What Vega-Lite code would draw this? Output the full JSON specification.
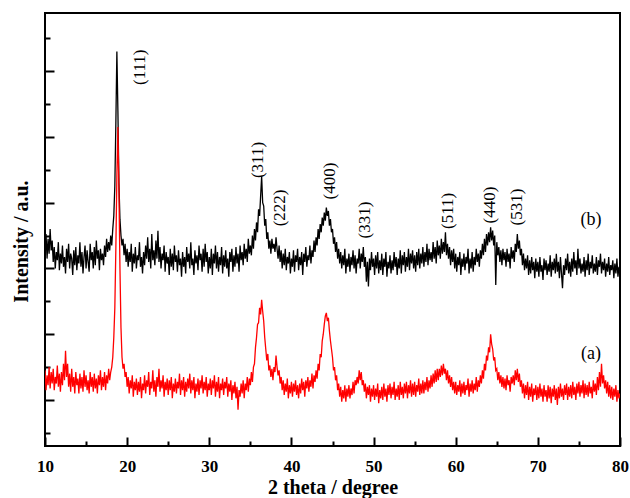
{
"$schema":"https://vega.github.io/schema/vega-lite/v6.json",
"width":575,"height":433,
"autosize":{"type":"none"},
"padding":{"left":45,"top":13,"right":10,"bottom":52},
"background":"white",
"config":{"view":{"stroke":"black","strokeWidth":2},"axis":{"grid":false,"domainColor":"black","domainWidth":2,"tickColor":"black","tickWidth":2,"labelFont":"Liberation Serif","labelFontWeight":"bold","labelColor":"black","titleFont":"Liberation Serif","titleFontWeight":"bold","titleColor":"black"}},
"datasets":{
"b":[
{"x":10,"y":5.7},{"x":10.125,"y":6.05},{"x":10.25,"y":5.3},{"x":10.375,"y":5.9},{"x":10.5,"y":5.45},{"x":10.625,"y":6.2},{"x":10.75,"y":5.55},{"x":10.875,"y":5.85},
{"x":11,"y":5.2},{"x":11.125,"y":5.65},{"x":11.25,"y":5.0},{"x":11.375,"y":5.5},{"x":11.5,"y":5.25},{"x":11.625,"y":5.8},{"x":11.75,"y":4.95},{"x":11.875,"y":5.45},
{"x":12,"y":5.15},{"x":12.125,"y":5.7},{"x":12.25,"y":5.05},{"x":12.375,"y":5.35},{"x":12.5,"y":4.85},{"x":12.625,"y":5.6},{"x":12.75,"y":5.2},{"x":12.875,"y":5.75},
{"x":13,"y":5.0},{"x":13.125,"y":5.45},{"x":13.25,"y":5.3},{"x":13.375,"y":4.8},{"x":13.5,"y":5.55},{"x":13.625,"y":5.1},{"x":13.75,"y":5.65},{"x":13.875,"y":4.95},
{"x":14,"y":5.4},{"x":14.125,"y":5.15},{"x":14.25,"y":5.8},{"x":14.375,"y":5.05},{"x":14.5,"y":5.5},{"x":14.625,"y":4.85},{"x":14.75,"y":5.35},{"x":14.875,"y":5.7},
{"x":15,"y":5.0},{"x":15.125,"y":5.55},{"x":15.25,"y":5.2},{"x":15.375,"y":4.9},{"x":15.5,"y":5.75},{"x":15.625,"y":5.25},{"x":15.75,"y":5.5},{"x":15.875,"y":5.0},
{"x":16,"y":5.65},{"x":16.125,"y":5.1},{"x":16.25,"y":5.85},{"x":16.375,"y":5.3},{"x":16.5,"y":5.55},{"x":16.625,"y":4.95},{"x":16.75,"y":5.6},{"x":16.875,"y":5.25},
{"x":17,"y":5.45},{"x":17.125,"y":5.1},{"x":17.25,"y":5.7},{"x":17.375,"y":5.35},{"x":17.5,"y":5.9},{"x":17.625,"y":5.5},{"x":17.75,"y":5.8},{"x":17.875,"y":5.55},
{"x":18,"y":6.0},{"x":18.125,"y":5.7},{"x":18.25,"y":6.2},{"x":18.375,"y":6.6},{"x":18.5,"y":7.5},{"x":18.625,"y":9.4},{"x":18.75,"y":11.6},{"x":18.875,"y":9.8},
{"x":19,"y":7.6},{"x":19.125,"y":6.5},{"x":19.25,"y":6.0},{"x":19.375,"y":5.7},{"x":19.5,"y":5.9},{"x":19.625,"y":5.4},{"x":19.75,"y":5.75},{"x":19.875,"y":5.2},
{"x":20,"y":5.6},{"x":20.125,"y":5.05},{"x":20.25,"y":5.5},{"x":20.375,"y":5.2},{"x":20.5,"y":5.75},{"x":20.625,"y":4.9},{"x":20.75,"y":5.45},{"x":20.875,"y":5.15},
{"x":21,"y":5.65},{"x":21.125,"y":5.0},{"x":21.25,"y":5.4},{"x":21.375,"y":5.25},{"x":21.5,"y":5.8},{"x":21.625,"y":5.05},{"x":21.75,"y":5.35},{"x":21.875,"y":4.85},
{"x":22,"y":5.5},{"x":22.125,"y":5.1},{"x":22.25,"y":5.7},{"x":22.375,"y":5.3},{"x":22.5,"y":5.95},{"x":22.625,"y":5.2},{"x":22.75,"y":5.6},{"x":22.875,"y":5.0},
{"x":23,"y":6.05},{"x":23.125,"y":5.25},{"x":23.25,"y":5.55},{"x":23.375,"y":5.1},{"x":23.5,"y":5.85},{"x":23.625,"y":5.3},{"x":23.75,"y":6.15},{"x":23.875,"y":5.2},
{"x":24,"y":5.65},{"x":24.125,"y":5.0},{"x":24.25,"y":5.45},{"x":24.375,"y":5.25},{"x":24.5,"y":5.7},{"x":24.625,"y":4.9},{"x":24.75,"y":5.5},{"x":24.875,"y":5.15},
{"x":25,"y":5.35},{"x":25.125,"y":4.8},{"x":25.25,"y":5.6},{"x":25.375,"y":5.05},{"x":25.5,"y":5.45},{"x":25.625,"y":4.95},{"x":25.75,"y":5.7},{"x":25.875,"y":5.2},
{"x":26,"y":5.4},{"x":26.125,"y":4.9},{"x":26.25,"y":5.55},{"x":26.375,"y":5.1},{"x":26.5,"y":5.3},{"x":26.625,"y":4.75},{"x":26.75,"y":5.5},{"x":26.875,"y":5.05},
{"x":27,"y":5.35},{"x":27.125,"y":4.85},{"x":27.25,"y":5.65},{"x":27.375,"y":5.2},{"x":27.5,"y":5.45},{"x":27.625,"y":5.0},{"x":27.75,"y":5.8},{"x":27.875,"y":5.1},
{"x":28,"y":5.3},{"x":28.125,"y":4.8},{"x":28.25,"y":5.55},{"x":28.375,"y":5.15},{"x":28.5,"y":5.4},{"x":28.625,"y":4.95},{"x":28.75,"y":5.7},{"x":28.875,"y":5.25},
{"x":29,"y":5.45},{"x":29.125,"y":4.9},{"x":29.25,"y":5.6},{"x":29.375,"y":5.05},{"x":29.5,"y":5.75},{"x":29.625,"y":5.2},{"x":29.75,"y":5.5},{"x":29.875,"y":4.85},
{"x":30,"y":5.35},{"x":30.125,"y":5.0},{"x":30.25,"y":5.6},{"x":30.375,"y":4.8},{"x":30.5,"y":5.45},{"x":30.625,"y":5.15},{"x":30.75,"y":5.7},{"x":30.875,"y":5.0},
{"x":31,"y":5.5},{"x":31.125,"y":4.9},{"x":31.25,"y":5.35},{"x":31.375,"y":5.1},{"x":31.5,"y":5.65},{"x":31.625,"y":4.85},{"x":31.75,"y":5.4},{"x":31.875,"y":5.05},
{"x":32,"y":5.55},{"x":32.125,"y":5.0},{"x":32.25,"y":5.3},{"x":32.375,"y":4.75},{"x":32.5,"y":5.5},{"x":32.625,"y":5.2},{"x":32.75,"y":5.6},{"x":32.875,"y":4.9},
{"x":33,"y":5.4},{"x":33.125,"y":5.05},{"x":33.25,"y":5.65},{"x":33.375,"y":5.15},{"x":33.5,"y":5.45},{"x":33.625,"y":4.9},{"x":33.75,"y":5.7},{"x":33.875,"y":5.25},
{"x":34,"y":5.5},{"x":34.125,"y":5.1},{"x":34.25,"y":5.75},{"x":34.375,"y":5.3},{"x":34.5,"y":5.6},{"x":34.625,"y":5.2},{"x":34.75,"y":5.9},{"x":34.875,"y":5.45},
{"x":35,"y":5.7},{"x":35.125,"y":5.4},{"x":35.25,"y":6.0},{"x":35.375,"y":5.6},{"x":35.5,"y":6.2},{"x":35.625,"y":5.85},{"x":35.75,"y":6.4},{"x":35.875,"y":6.1},
{"x":36,"y":6.8},{"x":36.125,"y":6.6},{"x":36.25,"y":7.2},{"x":36.375,"y":7.8},{"x":36.5,"y":7.0},{"x":36.625,"y":6.9},{"x":36.75,"y":6.3},{"x":36.875,"y":6.5},
{"x":37,"y":5.9},{"x":37.125,"y":6.1},{"x":37.25,"y":5.6},{"x":37.375,"y":5.85},{"x":37.5,"y":5.45},{"x":37.625,"y":5.9},{"x":37.75,"y":5.6},{"x":37.875,"y":5.75},
{"x":38,"y":5.5},{"x":38.125,"y":5.95},{"x":38.25,"y":5.6},{"x":38.375,"y":5.3},{"x":38.5,"y":5.7},{"x":38.625,"y":5.2},{"x":38.75,"y":5.55},{"x":38.875,"y":5.0},
{"x":39,"y":5.45},{"x":39.125,"y":5.1},{"x":39.25,"y":5.6},{"x":39.375,"y":4.95},{"x":39.5,"y":5.35},{"x":39.625,"y":5.15},{"x":39.75,"y":5.5},{"x":39.875,"y":4.85},
{"x":40,"y":5.3},{"x":40.125,"y":5.05},{"x":40.25,"y":5.55},{"x":40.375,"y":4.9},{"x":40.5,"y":5.4},{"x":40.625,"y":5.2},{"x":40.75,"y":5.6},{"x":40.875,"y":4.95},
{"x":41,"y":5.35},{"x":41.125,"y":5.1},{"x":41.25,"y":5.5},{"x":41.375,"y":4.8},{"x":41.5,"y":5.45},{"x":41.625,"y":5.2},{"x":41.75,"y":5.65},{"x":41.875,"y":5.05},
{"x":42,"y":5.4},{"x":42.125,"y":5.25},{"x":42.25,"y":5.7},{"x":42.375,"y":5.15},{"x":42.5,"y":5.55},{"x":42.625,"y":5.35},{"x":42.75,"y":5.85},{"x":42.875,"y":5.5},
{"x":43,"y":5.95},{"x":43.125,"y":5.7},{"x":43.25,"y":6.2},{"x":43.375,"y":5.9},{"x":43.5,"y":6.35},{"x":43.625,"y":6.1},{"x":43.75,"y":6.55},{"x":43.875,"y":6.3},
{"x":44,"y":6.7},{"x":44.125,"y":6.45},{"x":44.25,"y":6.85},{"x":44.375,"y":6.6},{"x":44.5,"y":6.75},{"x":44.625,"y":6.3},{"x":44.75,"y":6.5},{"x":44.875,"y":6.1},
{"x":45,"y":6.2},{"x":45.125,"y":5.75},{"x":45.25,"y":5.95},{"x":45.375,"y":5.5},{"x":45.5,"y":5.8},{"x":45.625,"y":5.3},{"x":45.75,"y":5.6},{"x":45.875,"y":5.15},
{"x":46,"y":5.5},{"x":46.125,"y":5.0},{"x":46.25,"y":5.4},{"x":46.375,"y":5.1},{"x":46.5,"y":5.6},{"x":46.625,"y":4.85},{"x":46.75,"y":5.3},{"x":46.875,"y":5.05},
{"x":47,"y":5.45},{"x":47.125,"y":4.9},{"x":47.25,"y":5.35},{"x":47.375,"y":5.1},{"x":47.5,"y":5.55},{"x":47.625,"y":5.0},{"x":47.75,"y":5.4},{"x":47.875,"y":4.85},
{"x":48,"y":5.3},{"x":48.125,"y":5.15},{"x":48.25,"y":5.6},{"x":48.375,"y":5.0},{"x":48.5,"y":5.45},{"x":48.625,"y":5.2},{"x":48.75,"y":5.65},{"x":48.875,"y":5.05},
{"x":49,"y":5.35},{"x":49.125,"y":4.6},{"x":49.25,"y":5.2},{"x":49.375,"y":4.45},{"x":49.5,"y":5.3},{"x":49.625,"y":4.95},{"x":49.75,"y":5.5},{"x":49.875,"y":5.05},
{"x":50,"y":5.3},{"x":50.125,"y":4.8},{"x":50.25,"y":5.4},{"x":50.375,"y":5.0},{"x":50.5,"y":5.5},{"x":50.625,"y":4.85},{"x":50.75,"y":5.25},{"x":50.875,"y":4.95},
{"x":51,"y":5.45},{"x":51.125,"y":4.8},{"x":51.25,"y":5.3},{"x":51.375,"y":5.05},{"x":51.5,"y":5.5},{"x":51.625,"y":4.75},{"x":51.75,"y":5.2},{"x":51.875,"y":5.0},
{"x":52,"y":5.4},{"x":52.125,"y":4.85},{"x":52.25,"y":5.25},{"x":52.375,"y":4.95},{"x":52.5,"y":5.5},{"x":52.625,"y":5.05},{"x":52.75,"y":5.35},{"x":52.875,"y":4.8},
{"x":53,"y":5.3},{"x":53.125,"y":5.0},{"x":53.25,"y":5.55},{"x":53.375,"y":4.85},{"x":53.5,"y":5.4},{"x":53.625,"y":5.1},{"x":53.75,"y":5.5},{"x":53.875,"y":4.9},
{"x":54,"y":5.35},{"x":54.125,"y":5.05},{"x":54.25,"y":5.6},{"x":54.375,"y":4.95},{"x":54.5,"y":5.45},{"x":54.625,"y":5.15},{"x":54.75,"y":5.55},{"x":54.875,"y":5.0},
{"x":55,"y":5.4},{"x":55.125,"y":4.9},{"x":55.25,"y":5.5},{"x":55.375,"y":5.1},{"x":55.5,"y":5.6},{"x":55.625,"y":5.0},{"x":55.75,"y":5.45},{"x":55.875,"y":5.15},
{"x":56,"y":5.65},{"x":56.125,"y":5.05},{"x":56.25,"y":5.5},{"x":56.375,"y":5.2},{"x":56.5,"y":5.75},{"x":56.625,"y":5.1},{"x":56.75,"y":5.6},{"x":56.875,"y":5.25},
{"x":57,"y":5.5},{"x":57.125,"y":5.2},{"x":57.25,"y":5.8},{"x":57.375,"y":5.3},{"x":57.5,"y":5.65},{"x":57.625,"y":5.15},{"x":57.75,"y":5.85},{"x":57.875,"y":5.4},
{"x":58,"y":5.7},{"x":58.125,"y":5.3},{"x":58.25,"y":5.9},{"x":58.375,"y":5.45},{"x":58.5,"y":5.8},{"x":58.625,"y":5.5},{"x":58.75,"y":6.1},{"x":58.875,"y":5.4},
{"x":59,"y":5.75},{"x":59.125,"y":5.3},{"x":59.25,"y":5.65},{"x":59.375,"y":5.1},{"x":59.5,"y":5.55},{"x":59.625,"y":5.2},{"x":59.75,"y":5.6},{"x":59.875,"y":5.0},
{"x":60,"y":5.45},{"x":60.125,"y":4.9},{"x":60.25,"y":5.35},{"x":60.375,"y":5.1},{"x":60.5,"y":5.5},{"x":60.625,"y":4.8},{"x":60.75,"y":5.3},{"x":60.875,"y":5.05},
{"x":61,"y":5.45},{"x":61.125,"y":4.95},{"x":61.25,"y":5.35},{"x":61.375,"y":5.15},{"x":61.5,"y":5.6},{"x":61.625,"y":4.85},{"x":61.75,"y":5.3},{"x":61.875,"y":5.0},
{"x":62,"y":5.5},{"x":62.125,"y":4.9},{"x":62.25,"y":5.35},{"x":62.375,"y":5.1},{"x":62.5,"y":5.6},{"x":62.625,"y":5.2},{"x":62.75,"y":5.45},{"x":62.875,"y":5.05},
{"x":63,"y":5.55},{"x":63.125,"y":5.3},{"x":63.25,"y":5.75},{"x":63.375,"y":5.4},{"x":63.5,"y":5.9},{"x":63.625,"y":5.5},{"x":63.75,"y":6.05},{"x":63.875,"y":5.7},
{"x":64,"y":6.1},{"x":64.125,"y":5.8},{"x":64.25,"y":6.25},{"x":64.375,"y":5.85},{"x":64.5,"y":6.15},{"x":64.625,"y":5.7},{"x":64.75,"y":6.0},{"x":64.875,"y":4.5},
{"x":65,"y":5.8},{"x":65.125,"y":5.4},{"x":65.25,"y":5.65},{"x":65.375,"y":5.2},{"x":65.5,"y":5.55},{"x":65.625,"y":5.1},{"x":65.75,"y":5.6},{"x":65.875,"y":5.25},
{"x":66,"y":5.5},{"x":66.125,"y":5.05},{"x":66.25,"y":5.6},{"x":66.375,"y":5.2},{"x":66.5,"y":5.45},{"x":66.625,"y":5.0},{"x":66.75,"y":5.65},{"x":66.875,"y":5.3},
{"x":67,"y":5.55},{"x":67.125,"y":5.2},{"x":67.25,"y":5.75},{"x":67.375,"y":5.5},{"x":67.5,"y":6.05},{"x":67.625,"y":5.6},{"x":67.75,"y":5.85},{"x":67.875,"y":5.4},
{"x":68,"y":5.6},{"x":68.125,"y":5.1},{"x":68.25,"y":5.45},{"x":68.375,"y":4.95},{"x":68.5,"y":5.3},{"x":68.625,"y":5.0},{"x":68.75,"y":5.4},{"x":68.875,"y":4.8},
{"x":69,"y":5.25},{"x":69.125,"y":4.85},{"x":69.25,"y":5.35},{"x":69.375,"y":4.95},{"x":69.5,"y":5.2},{"x":69.625,"y":4.7},{"x":69.75,"y":5.3},{"x":69.875,"y":4.9},
{"x":70,"y":5.2},{"x":70.125,"y":4.75},{"x":70.25,"y":5.35},{"x":70.375,"y":4.9},{"x":70.5,"y":5.1},{"x":70.625,"y":4.65},{"x":70.75,"y":5.3},{"x":70.875,"y":4.95},
{"x":71,"y":5.25},{"x":71.125,"y":4.8},{"x":71.25,"y":5.15},{"x":71.375,"y":4.9},{"x":71.5,"y":5.4},{"x":71.625,"y":4.75},{"x":71.75,"y":5.2},{"x":71.875,"y":4.95},
{"x":72,"y":5.3},{"x":72.125,"y":4.85},{"x":72.25,"y":5.45},{"x":72.375,"y":4.9},{"x":72.5,"y":5.2},{"x":72.625,"y":4.7},{"x":72.75,"y":5.35},{"x":72.875,"y":4.85},
{"x":73,"y":4.4},{"x":73.125,"y":5.1},{"x":73.25,"y":4.8},{"x":73.375,"y":5.3},{"x":73.5,"y":4.95},{"x":73.625,"y":5.45},{"x":73.75,"y":4.85},{"x":73.875,"y":5.2},
{"x":74,"y":4.75},{"x":74.125,"y":5.3},{"x":74.25,"y":4.9},{"x":74.375,"y":5.5},{"x":74.5,"y":5.0},{"x":74.625,"y":5.25},{"x":74.75,"y":4.8},{"x":74.875,"y":5.6},
{"x":75,"y":5.0},{"x":75.125,"y":5.3},{"x":75.25,"y":4.85},{"x":75.375,"y":5.15},{"x":75.5,"y":4.9},{"x":75.625,"y":5.35},{"x":75.75,"y":4.75},{"x":75.875,"y":5.25},
{"x":76,"y":4.95},{"x":76.125,"y":5.45},{"x":76.25,"y":4.8},{"x":76.375,"y":5.2},{"x":76.5,"y":5.0},{"x":76.625,"y":5.4},{"x":76.75,"y":4.85},{"x":76.875,"y":5.15},
{"x":77,"y":4.9},{"x":77.125,"y":5.35},{"x":77.25,"y":4.8},{"x":77.375,"y":5.25},{"x":77.5,"y":5.05},{"x":77.625,"y":5.45},{"x":77.75,"y":4.85},{"x":77.875,"y":5.2},
{"x":78,"y":4.95},{"x":78.125,"y":5.3},{"x":78.25,"y":4.75},{"x":78.375,"y":5.15},{"x":78.5,"y":4.9},{"x":78.625,"y":5.35},{"x":78.75,"y":4.8},{"x":78.875,"y":5.1},
{"x":79,"y":4.95},{"x":79.125,"y":5.25},{"x":79.25,"y":4.7},{"x":79.375,"y":5.15},{"x":79.5,"y":4.85},{"x":79.625,"y":5.3},{"x":79.75,"y":4.75},{"x":79.875,"y":5.05},
{"x":80,"y":4.9}],
"a":[
{"x":10,"y":1.9},{"x":10.125,"y":1.3},{"x":10.25,"y":1.75},{"x":10.375,"y":1.45},{"x":10.5,"y":2.0},{"x":10.625,"y":1.35},{"x":10.75,"y":1.85},{"x":10.875,"y":1.5},
{"x":11,"y":1.95},{"x":11.125,"y":1.3},{"x":11.25,"y":1.7},{"x":11.375,"y":1.5},{"x":11.5,"y":2.05},{"x":11.625,"y":1.4},{"x":11.75,"y":1.8},{"x":11.875,"y":1.25},
{"x":12,"y":1.85},{"x":12.125,"y":1.45},{"x":12.25,"y":2.1},{"x":12.375,"y":1.6},{"x":12.5,"y":2.5},{"x":12.625,"y":1.7},{"x":12.75,"y":2.1},{"x":12.875,"y":1.4},
{"x":13,"y":1.8},{"x":13.125,"y":1.25},{"x":13.25,"y":1.95},{"x":13.375,"y":1.4},{"x":13.5,"y":1.7},{"x":13.625,"y":1.2},{"x":13.75,"y":1.85},{"x":13.875,"y":1.45},
{"x":14,"y":1.65},{"x":14.125,"y":1.2},{"x":14.25,"y":1.8},{"x":14.375,"y":1.35},{"x":14.5,"y":1.7},{"x":14.625,"y":1.25},{"x":14.75,"y":1.9},{"x":14.875,"y":1.4},
{"x":15,"y":1.75},{"x":15.125,"y":1.3},{"x":15.25,"y":1.6},{"x":15.375,"y":1.2},{"x":15.5,"y":1.85},{"x":15.625,"y":1.4},{"x":15.75,"y":1.7},{"x":15.875,"y":1.25},
{"x":16,"y":1.8},{"x":16.125,"y":1.35},{"x":16.25,"y":1.65},{"x":16.375,"y":1.2},{"x":16.5,"y":1.75},{"x":16.625,"y":1.45},{"x":16.75,"y":1.9},{"x":16.875,"y":1.3},
{"x":17,"y":1.7},{"x":17.125,"y":1.4},{"x":17.25,"y":1.85},{"x":17.375,"y":1.3},{"x":17.5,"y":1.75},{"x":17.625,"y":1.5},{"x":17.75,"y":1.95},{"x":17.875,"y":1.6},
{"x":18,"y":1.85},{"x":18.125,"y":2.0},{"x":18.25,"y":2.3},{"x":18.375,"y":2.9},{"x":18.5,"y":3.8},{"x":18.625,"y":5.6},{"x":18.75,"y":7.8},{"x":18.875,"y":9.3},
{"x":19,"y":7.4},{"x":19.125,"y":5.0},{"x":19.25,"y":3.2},{"x":19.375,"y":2.3},{"x":19.5,"y":1.95},{"x":19.625,"y":2.1},{"x":19.75,"y":1.7},{"x":19.875,"y":1.85},
{"x":20,"y":1.4},{"x":20.125,"y":1.7},{"x":20.25,"y":1.2},{"x":20.375,"y":1.6},{"x":20.5,"y":1.35},{"x":20.625,"y":1.75},{"x":20.75,"y":1.1},{"x":20.875,"y":1.55},
{"x":21,"y":1.3},{"x":21.125,"y":1.65},{"x":21.25,"y":1.15},{"x":21.375,"y":1.55},{"x":21.5,"y":1.25},{"x":21.625,"y":1.7},{"x":21.75,"y":1.05},{"x":21.875,"y":1.5},
{"x":22,"y":1.3},{"x":22.125,"y":1.75},{"x":22.25,"y":1.2},{"x":22.375,"y":1.6},{"x":22.5,"y":1.4},{"x":22.625,"y":1.85},{"x":22.75,"y":1.15},{"x":22.875,"y":1.55},
{"x":23,"y":1.35},{"x":23.125,"y":1.9},{"x":23.25,"y":1.25},{"x":23.375,"y":1.6},{"x":23.5,"y":1.1},{"x":23.625,"y":1.7},{"x":23.75,"y":1.4},{"x":23.875,"y":1.95},
{"x":24,"y":1.25},{"x":24.125,"y":1.6},{"x":24.25,"y":1.35},{"x":24.375,"y":1.75},{"x":24.5,"y":1.1},{"x":24.625,"y":1.55},{"x":24.75,"y":1.3},{"x":24.875,"y":1.65},
{"x":25,"y":1.15},{"x":25.125,"y":1.6},{"x":25.25,"y":1.3},{"x":25.375,"y":1.7},{"x":25.5,"y":1.05},{"x":25.625,"y":1.5},{"x":25.75,"y":1.25},{"x":25.875,"y":1.65},
{"x":26,"y":1.2},{"x":26.125,"y":1.55},{"x":26.25,"y":1.35},{"x":26.375,"y":1.8},{"x":26.5,"y":1.15},{"x":26.625,"y":1.6},{"x":26.75,"y":1.3},{"x":26.875,"y":1.7},
{"x":27,"y":1.1},{"x":27.125,"y":1.55},{"x":27.25,"y":1.25},{"x":27.375,"y":1.65},{"x":27.5,"y":1.35},{"x":27.625,"y":1.8},{"x":27.75,"y":1.2},{"x":27.875,"y":1.6},
{"x":28,"y":1.3},{"x":28.125,"y":1.7},{"x":28.25,"y":1.05},{"x":28.375,"y":1.5},{"x":28.5,"y":1.25},{"x":28.625,"y":1.65},{"x":28.75,"y":1.15},{"x":28.875,"y":1.6},
{"x":29,"y":1.35},{"x":29.125,"y":1.75},{"x":29.25,"y":1.2},{"x":29.375,"y":1.55},{"x":29.5,"y":1.3},{"x":29.625,"y":1.7},{"x":29.75,"y":1.1},{"x":29.875,"y":1.5},
{"x":30,"y":1.3},{"x":30.125,"y":1.65},{"x":30.25,"y":1.15},{"x":30.375,"y":1.6},{"x":30.5,"y":1.35},{"x":30.625,"y":1.75},{"x":30.75,"y":1.1},{"x":30.875,"y":1.55},
{"x":31,"y":1.25},{"x":31.125,"y":1.7},{"x":31.25,"y":1.05},{"x":31.375,"y":1.5},{"x":31.5,"y":1.3},{"x":31.625,"y":1.65},{"x":31.75,"y":1.15},{"x":31.875,"y":1.55},
{"x":32,"y":1.35},{"x":32.125,"y":1.7},{"x":32.25,"y":1.1},{"x":32.375,"y":1.5},{"x":32.5,"y":1.25},{"x":32.625,"y":1.6},{"x":32.75,"y":1.0},{"x":32.875,"y":1.45},
{"x":33,"y":1.2},{"x":33.125,"y":1.55},{"x":33.25,"y":1.05},{"x":33.375,"y":1.4},{"x":33.5,"y":0.7},{"x":33.625,"y":1.3},{"x":33.75,"y":1.1},{"x":33.875,"y":1.5},
{"x":34,"y":1.2},{"x":34.125,"y":1.6},{"x":34.25,"y":1.05},{"x":34.375,"y":1.5},{"x":34.5,"y":1.3},{"x":34.625,"y":1.7},{"x":34.75,"y":1.25},{"x":34.875,"y":1.65},
{"x":35,"y":1.45},{"x":35.125,"y":1.85},{"x":35.25,"y":1.55},{"x":35.375,"y":2.0},{"x":35.5,"y":2.1},{"x":35.625,"y":2.6},{"x":35.75,"y":2.9},{"x":35.875,"y":3.3},
{"x":36,"y":3.35},{"x":36.125,"y":3.8},{"x":36.25,"y":3.6},{"x":36.375,"y":4.05},{"x":36.5,"y":3.7},{"x":36.625,"y":3.4},{"x":36.75,"y":2.9},{"x":36.875,"y":2.55},
{"x":37,"y":2.2},{"x":37.125,"y":2.4},{"x":37.25,"y":1.9},{"x":37.375,"y":2.05},{"x":37.5,"y":1.7},{"x":37.625,"y":1.95},{"x":37.75,"y":1.6},{"x":37.875,"y":2.0},
{"x":38,"y":1.85},{"x":38.125,"y":2.35},{"x":38.25,"y":2.0},{"x":38.375,"y":1.75},{"x":38.5,"y":1.9},{"x":38.625,"y":1.5},{"x":38.75,"y":1.7},{"x":38.875,"y":1.3},
{"x":39,"y":1.6},{"x":39.125,"y":1.15},{"x":39.25,"y":1.5},{"x":39.375,"y":1.25},{"x":39.5,"y":1.65},{"x":39.625,"y":1.05},{"x":39.75,"y":1.45},{"x":39.875,"y":1.2},
{"x":40,"y":1.55},{"x":40.125,"y":1.1},{"x":40.25,"y":1.5},{"x":40.375,"y":1.25},{"x":40.5,"y":1.6},{"x":40.625,"y":1.15},{"x":40.75,"y":1.45},{"x":40.875,"y":1.05},
{"x":41,"y":1.5},{"x":41.125,"y":1.2},{"x":41.25,"y":1.65},{"x":41.375,"y":1.3},{"x":41.5,"y":1.55},{"x":41.625,"y":1.1},{"x":41.75,"y":1.6},{"x":41.875,"y":1.35},
{"x":42,"y":1.7},{"x":42.125,"y":1.25},{"x":42.25,"y":1.6},{"x":42.375,"y":1.4},{"x":42.5,"y":1.8},{"x":42.625,"y":1.35},{"x":42.75,"y":1.75},{"x":42.875,"y":1.55},
{"x":43,"y":1.9},{"x":43.125,"y":1.65},{"x":43.25,"y":2.1},{"x":43.375,"y":1.9},{"x":43.5,"y":2.4},{"x":43.625,"y":2.3},{"x":43.75,"y":2.8},{"x":43.875,"y":3.0},
{"x":44,"y":3.3},{"x":44.125,"y":3.55},{"x":44.25,"y":3.65},{"x":44.375,"y":3.4},{"x":44.5,"y":3.5},{"x":44.625,"y":3.1},{"x":44.75,"y":2.8},{"x":44.875,"y":2.55},
{"x":45,"y":2.3},{"x":45.125,"y":1.9},{"x":45.25,"y":2.0},{"x":45.375,"y":1.6},{"x":45.5,"y":1.75},{"x":45.625,"y":1.3},{"x":45.75,"y":1.5},{"x":45.875,"y":1.1},
{"x":46,"y":1.4},{"x":46.125,"y":0.95},{"x":46.25,"y":1.3},{"x":46.375,"y":1.05},{"x":46.5,"y":1.45},{"x":46.625,"y":0.95},{"x":46.75,"y":1.35},{"x":46.875,"y":1.1},
{"x":47,"y":1.45},{"x":47.125,"y":1.05},{"x":47.25,"y":1.35},{"x":47.375,"y":1.15},{"x":47.5,"y":1.55},{"x":47.625,"y":1.2},{"x":47.75,"y":1.6},{"x":47.875,"y":1.45},
{"x":48,"y":1.7},{"x":48.125,"y":1.5},{"x":48.25,"y":1.9},{"x":48.375,"y":1.6},{"x":48.5,"y":1.85},{"x":48.625,"y":1.45},{"x":48.75,"y":1.6},{"x":48.875,"y":1.25},
{"x":49,"y":1.5},{"x":49.125,"y":1.05},{"x":49.25,"y":1.4},{"x":49.375,"y":1.15},{"x":49.5,"y":1.45},{"x":49.625,"y":0.95},{"x":49.75,"y":1.35},{"x":49.875,"y":1.1},
{"x":50,"y":1.45},{"x":50.125,"y":1.0},{"x":50.25,"y":1.35},{"x":50.375,"y":1.1},{"x":50.5,"y":1.5},{"x":50.625,"y":0.9},{"x":50.75,"y":1.3},{"x":50.875,"y":1.05},
{"x":51,"y":1.4},{"x":51.125,"y":1.0},{"x":51.25,"y":1.5},{"x":51.375,"y":1.1},{"x":51.5,"y":1.35},{"x":51.625,"y":0.95},{"x":51.75,"y":1.45},{"x":51.875,"y":1.15},
{"x":52,"y":1.5},{"x":52.125,"y":1.05},{"x":52.25,"y":1.4},{"x":52.375,"y":1.15},{"x":52.5,"y":1.55},{"x":52.625,"y":1.0},{"x":52.75,"y":1.35},{"x":52.875,"y":1.1},
{"x":53,"y":1.45},{"x":53.125,"y":1.0},{"x":53.25,"y":1.55},{"x":53.375,"y":1.15},{"x":53.5,"y":1.4},{"x":53.625,"y":1.05},{"x":53.75,"y":1.5},{"x":53.875,"y":1.2},
{"x":54,"y":1.55},{"x":54.125,"y":1.05},{"x":54.25,"y":1.45},{"x":54.375,"y":1.2},{"x":54.5,"y":1.6},{"x":54.625,"y":1.1},{"x":54.75,"y":1.5},{"x":54.875,"y":1.15},
{"x":55,"y":1.55},{"x":55.125,"y":1.1},{"x":55.25,"y":1.45},{"x":55.375,"y":1.25},{"x":55.5,"y":1.65},{"x":55.625,"y":1.15},{"x":55.75,"y":1.5},{"x":55.875,"y":1.2},
{"x":56,"y":1.6},{"x":56.125,"y":1.2},{"x":56.25,"y":1.55},{"x":56.375,"y":1.3},{"x":56.5,"y":1.7},{"x":56.625,"y":1.25},{"x":56.75,"y":1.6},{"x":56.875,"y":1.35},
{"x":57,"y":1.75},{"x":57.125,"y":1.4},{"x":57.25,"y":1.8},{"x":57.375,"y":1.5},{"x":57.5,"y":1.9},{"x":57.625,"y":1.55},{"x":57.75,"y":1.95},{"x":57.875,"y":1.6},
{"x":58,"y":1.95},{"x":58.125,"y":1.7},{"x":58.25,"y":2.05},{"x":58.375,"y":1.75},{"x":58.5,"y":2.1},{"x":58.625,"y":1.8},{"x":58.75,"y":1.95},{"x":58.875,"y":1.6},
{"x":59,"y":1.9},{"x":59.125,"y":1.5},{"x":59.25,"y":1.75},{"x":59.375,"y":1.4},{"x":59.5,"y":1.7},{"x":59.625,"y":1.3},{"x":59.75,"y":1.55},{"x":59.875,"y":1.2},
{"x":60,"y":1.55},{"x":60.125,"y":1.15},{"x":60.25,"y":1.45},{"x":60.375,"y":1.25},{"x":60.5,"y":1.6},{"x":60.625,"y":1.1},{"x":60.75,"y":1.5},{"x":60.875,"y":1.2},
{"x":61,"y":1.55},{"x":61.125,"y":1.15},{"x":61.25,"y":1.45},{"x":61.375,"y":1.3},{"x":61.5,"y":1.65},{"x":61.625,"y":1.1},{"x":61.75,"y":1.5},{"x":61.875,"y":1.25},
{"x":62,"y":1.6},{"x":62.125,"y":1.2},{"x":62.25,"y":1.5},{"x":62.375,"y":1.3},{"x":62.5,"y":1.7},{"x":62.625,"y":1.25},{"x":62.75,"y":1.6},{"x":62.875,"y":1.4},
{"x":63,"y":1.75},{"x":63.125,"y":1.5},{"x":63.25,"y":1.9},{"x":63.375,"y":1.65},{"x":63.5,"y":2.1},{"x":63.625,"y":1.9},{"x":63.75,"y":2.35},{"x":63.875,"y":2.2},
{"x":64,"y":2.6},{"x":64.125,"y":2.45},{"x":64.25,"y":3.0},{"x":64.375,"y":2.7},{"x":64.5,"y":2.55},{"x":64.625,"y":2.2},{"x":64.75,"y":2.3},{"x":64.875,"y":1.9},
{"x":65,"y":1.95},{"x":65.125,"y":1.6},{"x":65.25,"y":1.85},{"x":65.375,"y":1.5},{"x":65.5,"y":1.75},{"x":65.625,"y":1.4},{"x":65.75,"y":1.7},{"x":65.875,"y":1.35},
{"x":66,"y":1.65},{"x":66.125,"y":1.3},{"x":66.25,"y":1.75},{"x":66.375,"y":1.45},{"x":66.5,"y":1.6},{"x":66.625,"y":1.25},{"x":66.75,"y":1.7},{"x":66.875,"y":1.5},
{"x":67,"y":1.75},{"x":67.125,"y":1.45},{"x":67.25,"y":1.9},{"x":67.375,"y":1.6},{"x":67.5,"y":1.95},{"x":67.625,"y":1.55},{"x":67.75,"y":1.8},{"x":67.875,"y":1.4},
{"x":68,"y":1.6},{"x":68.125,"y":1.2},{"x":68.25,"y":1.5},{"x":68.375,"y":1.05},{"x":68.5,"y":1.45},{"x":68.625,"y":1.15},{"x":68.75,"y":1.55},{"x":68.875,"y":1.0},
{"x":69,"y":1.4},{"x":69.125,"y":1.1},{"x":69.25,"y":1.5},{"x":69.375,"y":0.95},{"x":69.5,"y":1.35},{"x":69.625,"y":1.15},{"x":69.75,"y":1.45},{"x":69.875,"y":1.0},
{"x":70,"y":1.4},{"x":70.125,"y":1.05},{"x":70.25,"y":1.5},{"x":70.375,"y":1.1},{"x":70.5,"y":1.35},{"x":70.625,"y":0.95},{"x":70.75,"y":1.45},{"x":70.875,"y":1.1},
{"x":71,"y":1.3},{"x":71.125,"y":0.95},{"x":71.25,"y":1.45},{"x":71.375,"y":1.05},{"x":71.5,"y":1.4},{"x":71.625,"y":0.9},{"x":71.75,"y":1.35},{"x":71.875,"y":1.1},
{"x":72,"y":1.45},{"x":72.125,"y":1.0},{"x":72.25,"y":1.35},{"x":72.375,"y":0.85},{"x":72.5,"y":1.4},{"x":72.625,"y":1.05},{"x":72.75,"y":1.5},{"x":72.875,"y":1.1},
{"x":73,"y":1.35},{"x":73.125,"y":1.0},{"x":73.25,"y":1.45},{"x":73.375,"y":1.15},{"x":73.5,"y":1.5},{"x":73.625,"y":1.0},{"x":73.75,"y":1.4},{"x":73.875,"y":1.1},
{"x":74,"y":1.45},{"x":74.125,"y":1.05},{"x":74.25,"y":1.55},{"x":74.375,"y":1.15},{"x":74.5,"y":1.4},{"x":74.625,"y":1.0},{"x":74.75,"y":1.5},{"x":74.875,"y":1.2},
{"x":75,"y":1.55},{"x":75.125,"y":1.1},{"x":75.25,"y":1.45},{"x":75.375,"y":1.2},{"x":75.5,"y":1.6},{"x":75.625,"y":1.05},{"x":75.75,"y":1.5},{"x":75.875,"y":1.15},
{"x":76,"y":1.45},{"x":76.125,"y":1.1},{"x":76.25,"y":1.55},{"x":76.375,"y":1.2},{"x":76.5,"y":1.4},{"x":76.625,"y":1.05},{"x":76.75,"y":1.6},{"x":76.875,"y":1.25},
{"x":77,"y":1.5},{"x":77.125,"y":1.15},{"x":77.25,"y":1.7},{"x":77.375,"y":1.3},{"x":77.5,"y":1.85},{"x":77.625,"y":1.4},{"x":77.75,"y":2.1},{"x":77.875,"y":1.5},
{"x":78,"y":1.75},{"x":78.125,"y":1.35},{"x":78.25,"y":1.6},{"x":78.375,"y":1.2},{"x":78.5,"y":1.55},{"x":78.625,"y":1.1},{"x":78.75,"y":1.45},{"x":78.875,"y":1.05},
{"x":79,"y":1.4},{"x":79.125,"y":1.0},{"x":79.25,"y":1.35},{"x":79.375,"y":1.1},{"x":79.5,"y":1.45},{"x":79.625,"y":0.95},{"x":79.75,"y":1.3},{"x":79.875,"y":1.05},
{"x":80,"y":1.2}],
"peaks":[{"x":21.57,"y":11.12,"t":"(111)"},{"x":35.93,"y":8.3,"t":"(311)"},{"x":38.61,"y":6.84,"t":"(222)"},{"x":44.7,"y":7.66,"t":"(400)"},{"x":48.96,"y":6.47,"t":"(331)"},{"x":59.06,"y":6.75,"t":"(511)"},{"x":64.18,"y":6.93,"t":"(440)"},{"x":67.46,"y":6.87,"t":"(531)"}],
"series":[{"x":76.47,"y":6.47,"t":"(b)"},{"x":76.47,"y":2.4,"t":"(a)"}]
},
"resolve":{"axis":{"x":"independent","y":"independent"}},
"layer":[
{"data":{"name":"b"},"mark":{"type":"line","color":"black","strokeWidth":1.3,"clip":true},
 "encoding":{
  "x":{"field":"x","type":"quantitative","scale":{"domain":[10,80],"nice":false,"zero":false},
   "axis":{"orient":"bottom","values":[10,20,30,40,50,60,70,80],"tickSize":-9,"labelFontSize":17,"labelPadding":21,"labelFlush":false,"title":"2 theta / degree","titleFontSize":20,"titlePadding":3,"domain":false}},
  "y":{"field":"y","type":"quantitative","scale":{"domain":[-0.4,12.77],"nice":false,"zero":false},
   "axis":{"orient":"left","values":[1,3,5,7,9,11],"tickSize":-9,"labels":false,"title":"Intensity / a.u.","titleFontSize":20,"titlePadding":13,"titleY":228,"domain":false}}}},
{"data":{"name":"a"},"mark":{"type":"line","color":"#ff0000","strokeWidth":1.3,"clip":true},
 "encoding":{
  "x":{"field":"x","type":"quantitative","axis":null},
  "y":{"field":"y","type":"quantitative","axis":null}}},
{"data":{"name":"peaks"},"mark":{"type":"text","angle":270,"font":"Liberation Serif","fontSize":17,"color":"black","align":"center","baseline":"middle"},
 "encoding":{
  "x":{"field":"x","type":"quantitative","axis":{"orient":"bottom","values":[15,25,35,45,55,65,75],"tickSize":-5,"labels":false,"title":null,"domain":false}},
  "y":{"field":"y","type":"quantitative","axis":{"orient":"left","values":[0,2,4,6,8,10,12],"tickSize":-5,"labels":false,"title":null,"domain":false}},
  "text":{"field":"t","type":"nominal"}}},
{"data":{"name":"series"},"mark":{"type":"text","font":"Liberation Serif","fontSize":18,"color":"black","align":"center","baseline":"middle"},
 "encoding":{
  "x":{"field":"x","type":"quantitative","axis":null},
  "y":{"field":"y","type":"quantitative","axis":null},
  "text":{"field":"t","type":"nominal"}}}
]
}
